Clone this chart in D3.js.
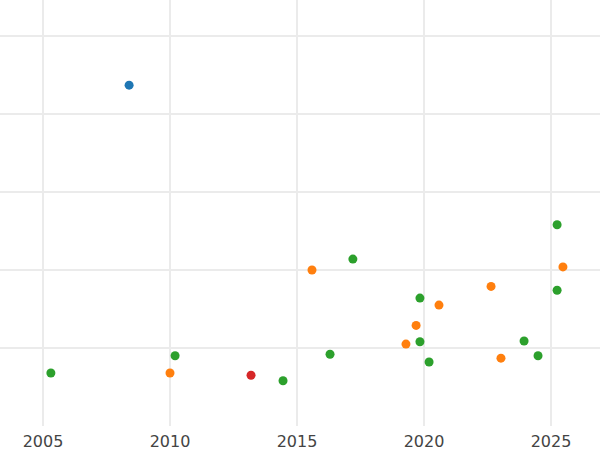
<!DOCTYPE html>
<html><head><meta charset="utf-8">
<script src="https://cdn.jsdelivr.net/npm/d3@7"></script>
<style>body{margin:0;background:#fff}</style>
</head><body><div id="container"></div>
<script>
const years = [2008.39, 2005.31, 2010.2, 2010.0, 2013.19, 2014.45, 2015.59, 2016.3, 2017.2, 2019.84, 2019.69, 2019.29, 2019.84, 2020.2, 2020.59, 2022.64, 2023.03, 2023.94, 2024.49, 2025.24, 2025.47, 2025.24];
const values = [4.37, 0.68, 0.90, 0.68, 0.65, 0.58, 2.0, 0.92, 2.14, 1.64, 1.29, 1.05, 1.08, 0.82, 1.55, 1.79, 0.87, 1.09, 0.90, 2.58, 2.04, 1.74];
const groups = ['blue', 'green', 'green', 'orange', 'red', 'green', 'orange', 'green', 'green', 'green', 'orange', 'orange', 'green', 'green', 'orange', 'orange', 'orange', 'green', 'green', 'green', 'orange', 'green'];
const xTicks = [2005, 2010, 2015, 2020, 2025];
const yGrid = [1, 2, 3, 4, 5];
const colors = {blue: '#1f77b4', orange: '#ff7f0e', green: '#2ca02c', red: '#d62728'};

const width = 600, height = 450;
const svg = d3.select('#container').append('svg').attr('width', width).attr('height', height);
const x = d3.scaleLinear().domain([2005, 2025]).range([43, 551]);
const y = d3.scaleLinear().domain([0, 5]).range([426, 36]);

svg.selectAll('line.v').data(xTicks).enter().append('line')
    .attr('x1', d => x(d)).attr('x2', d => x(d)).attr('y1', 0).attr('y2', 426)
    .style('stroke', '#ebebeb').style('stroke-width', 2);
svg.selectAll('line.h').data(yGrid).enter().append('line')
    .attr('x1', 0).attr('x2', width).attr('y1', d => y(d)).attr('y2', d => y(d))
    .style('stroke', '#ebebeb').style('stroke-width', 2);

svg.selectAll('text.tick').data(xTicks).enter().append('text')
    .attr('x', d => x(d)).attr('y', 447).attr('text-anchor', 'middle')
    .style('font-family', 'DejaVu Sans').style('font-size', '16px').style('fill', '#444')
    .text(d => d);

svg.selectAll('circle').data(years).enter().append('circle')
    .attr('cx', d => x(d)).attr('cy', (d, i) => y(values[i]))
    .attr('r', 4.5)
    .attr('fill', (d, i) => colors[groups[i]]);
</script></body></html>
